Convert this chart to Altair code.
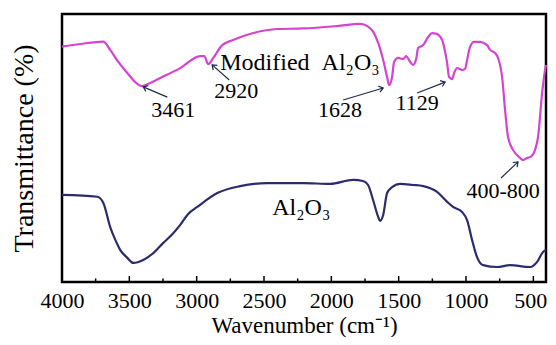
import altair as alt
import pandas as pd

# Modified Al2O3 spectrum (wavenumber cm-1, transmittance a.u.)
mod_wn = [4000, 3864, 3693, 3642, 3582, 3515, 3456, 3411, 3360, 3270, 3122, 2974, 2944, 2914, 2877, 2810,
          2729, 2580, 2402, 2209, 1957, 1786, 1727, 1690, 1652, 1615, 1586, 1571, 1549, 1534, 1504, 1467,
          1445, 1415, 1393, 1370, 1356, 1318, 1281, 1252, 1215, 1177, 1163, 1140, 1126, 1103, 1088, 1066,
          1029, 1007, 992, 970, 940, 896, 844, 821, 784, 762, 732, 710, 688, 651, 599, 576, 547, 524, 487,
          465, 435, 413, 406]
mod_t = [87.8, 88.8, 89.7, 86.6, 82.1, 78.0, 74.6, 73.1, 73.9, 76.1, 79.8, 84.3, 84.3, 81.3, 83.6, 88.4,
         90.3, 92.9, 94.4, 94.6, 95.5, 96.3, 95.3, 93.4, 89.2, 82.8, 76.5, 73.5, 76.5, 82.1, 83.6, 83.2,
         84.3, 82.1, 81.0, 83.2, 87.3, 88.4, 91.4, 92.9, 92.5, 90.3, 87.7, 81.7, 76.5, 75.7, 78.0, 79.8,
         79.1, 79.5, 82.8, 87.7, 89.6, 89.6, 88.4, 86.6, 85.4, 83.6, 76.5, 64.2, 54.1, 49.3, 46.3, 45.5,
         46.3, 46.6, 49.3, 54.1, 70.5, 79.1, 81.0]

# Plain Al2O3 spectrum
al_wn = [4000, 3738, 3693, 3642, 3604, 3567, 3515, 3471, 3397, 3322, 3248, 3181, 3122, 3063, 2996, 2847,
         2677, 2476, 2209, 2009, 1838, 1764, 1727, 1690, 1652, 1638, 1615, 1586, 1549, 1489, 1393, 1318,
         1215, 1140, 1096, 1029, 992, 955, 918, 873, 769, 673, 524, 472, 428, 406]
al_t = [32.5, 31.8, 29.5, 20.5, 15.7, 11.9, 9.0, 7.1, 8.2, 10.8, 14.6, 17.8, 21.3, 25.4, 28.0, 33.2,
        35.8, 36.9, 36.9, 36.6, 38.1, 37.7, 36.2, 30.6, 24.3, 22.8, 25.0, 33.2, 35.4, 36.6, 36.2, 35.8,
        33.6, 29.9, 28.0, 26.1, 23.1, 15.7, 9.3, 6.3, 5.6, 6.3, 5.6, 7.5, 11.2, 11.9]

# Peak annotations
ann_text = ["3461", "2920", "1628", "1129", "400-800"]
ann_x = [3174, 2706, 1935, 1363, 725]
ann_y = [61.6, 68.7, 61.6, 64.2, 31.3]
tail_x = [3218, 2758, 1912, 1363, 740]
tail_y = [69.0, 75.4, 67.9, 70.5, 38.8]
tip_x = [3397, 2885, 1615, 1155, 614]
tip_y = [72.8, 81.0, 72.4, 74.6, 44.8]
head_angle = [292.6, 311.4, 74.2, 68.6, 46.7]

# Curve labels
lab_text = ["Modified\u00a0\u00a0Al\u2082O\u2083", "Al\u2082O\u2083"]
lab_x = [2825, 2439]
lab_y = [79.1, 25.0]

major_ticks = [3500, 3000, 2500, 2000, 1500, 1000, 500]
minor_ticks = [3750, 3250, 2750, 2250, 1750, 1250, 750]
x_labels = [4000, 3500, 3000, 2500, 2000, 1500, 1000, 500]

SERIF = "Liberation Serif"

mod_df = pd.DataFrame({"wn": mod_wn, "t": mod_t, "i": range(len(mod_wn))})
al_df = pd.DataFrame({"wn": al_wn, "t": al_t, "i": range(len(al_wn))})
ann_df = pd.DataFrame({"text": ann_text, "x": ann_x, "y": ann_y})
arr_df = pd.DataFrame({"x": tail_x, "y": tail_y, "x2": tip_x, "y2": tip_y, "angle": head_angle})
lab_df = pd.DataFrame({"text": lab_text, "x": lab_x, "y": lab_y})
maj_df = pd.DataFrame({"v": major_ticks})
min_df = pd.DataFrame({"v": minor_ticks})

xscale = alt.Scale(domain=[4000, 406], nice=False, zero=False)
yscale = alt.Scale(domain=[0, 100], nice=False, zero=False)

xaxis = alt.Axis(values=x_labels, format="d", title="Wavenumber (cm\u207b\u00b9)",
                 labelFont=SERIF, labelFontSize=22, labelColor="black", labelPadding=8,
                 labelOffset={"condition": {"test": "datum.value == 500", "value": -3}, "value": 0},
                 titleFont=SERIF, titleFontSize=23, titleFontWeight="normal", titleColor="black",
                 titleBaseline="alphabetic", titleY=50,
                 ticks=False, domain=False, grid=False, labelFlush=False)
yaxis = alt.Axis(title="Transmittance (%)", labels=False, ticks=False, domain=False, grid=False,
                 titleFont=SERIF, titleFontSize=28, titleFontWeight="normal", titleColor="black",
                 titlePadding=24)

base_mod = alt.Chart(mod_df).mark_line(color="#d543d2", strokeWidth=2.2, interpolate="monotone").encode(
    x=alt.X("wn:Q", scale=xscale, axis=xaxis),
    y=alt.Y("t:Q", scale=yscale, axis=yaxis),
    order="i:Q",
)
base_al = alt.Chart(al_df).mark_line(color="#2b2c6e", strokeWidth=2.2, interpolate="monotone").encode(
    x=alt.X("wn:Q", scale=xscale),
    y=alt.Y("t:Q", scale=yscale),
    order="i:Q",
)

ann = alt.Chart(ann_df).mark_text(font=SERIF, fontSize=22, color="black", align="center",
                                  baseline="alphabetic").encode(
    x=alt.X("x:Q", scale=xscale), y=alt.Y("y:Q", scale=yscale), text="text:N")

arrows = alt.Chart(arr_df).mark_rule(color="#1e2a48", strokeWidth=1.2).encode(
    x=alt.X("x:Q", scale=xscale), y=alt.Y("y:Q", scale=yscale), x2="x2:Q", y2="y2:Q")

heads = alt.Chart(arr_df).mark_point(shape="M-0.75,1L0,0L0.75,1", filled=False, size=70,
                                     color="#1e2a48", strokeWidth=1.2, opacity=1).encode(
    x=alt.X("x2:Q", scale=xscale), y=alt.Y("y2:Q", scale=yscale), angle=alt.Angle("angle:Q", scale=None))

labels = alt.Chart(lab_df).mark_text(font=SERIF, fontSize=24, color="black", align="left",
                                     baseline="alphabetic").encode(
    x=alt.X("x:Q", scale=xscale), y=alt.Y("y:Q", scale=yscale), text="text:N")

maj = alt.Chart(maj_df).mark_rule(color="black", strokeWidth=1.5).encode(
    x=alt.X("v:Q", scale=xscale), y=alt.value(268), y2=alt.value(262))
mnr = alt.Chart(min_df).mark_rule(color="black", strokeWidth=1.5).encode(
    x=alt.X("v:Q", scale=xscale), y=alt.value(268), y2=alt.value(264.5))

chart = alt.layer(base_mod, base_al, arrows, heads, ann, labels, maj, mnr).properties(
    width=484, height=268,
    padding={"left": 54, "top": 6, "right": 2, "bottom": 55},
    autosize=alt.AutoSizeParams(type="none"),
    background="white",
).configure_view(stroke="black", strokeWidth=2.5)

chart.save("out.html", embed_options={"renderer": "svg", "actions": False})
